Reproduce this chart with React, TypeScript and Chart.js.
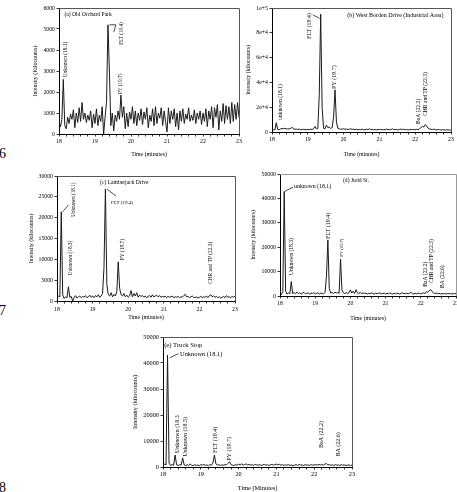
import React, { useEffect, useRef } from 'react';
import { Chart, registerables } from 'chart.js';

Chart.register(...registerables);

// Sampling grid (minutes)
const TIME_START = 18;
const TIME_STEP = 0.04;
const N_POINTS = 126;
const TIMES: number[] = Array.from({ length: N_POINTS }, (_, i) => Math.round((TIME_START + i * TIME_STEP) * 100) / 100);

const X_TICK_STEP = 0.2;

// (a) Old Orchard Park
const OLD_ORCHARD: number[] = [
  600, 350, 700, 2600, 400, 250, 800, 500, 950, 700,
  1150, 300, 1000, 550, 1250, 600, 1500, 700, 1000, 550,
  900, 650, 1100, 300, 950, 500, 1200, 400, 900, 600,
  1300, 0, 800, 1500, 5200, 3000, 400, 1000, 150, 900,
  600, 1100, 700, 1850, 800, 1300, 250, 1000, 350, 1050,
  700, 1300, 500, 1100, 400, 1000, 650, 1200, 450, 1050,
  700, 1250, 300, 900, 600, 1200, 400, 1300, 500, 1000,
  750, 1250, 400, 1100, 600, 100, 1250, 500, 1100, 700,
  1200, 350, 1000, 200, 1100, 600, 1200, 500, 950, 700,
  1250, 600, 900, 650, 1150, 500, 1000, 700, 1100, 450,
  1000, 600, 1200, 350, 1100, 700, 1300, 300, 1250, 800,
  1400, 200, 1100, 600, 1450, 500, 1350, 700, 1300, 500,
  1500, 600, 1400, 700, 1500, 800,
];

// (b) West Borden Drive
const WEST_BORDEN: number[] = [
  1500, 1800, 1600, 7500, 2000, 1800, 2500, 2800, 2600, 3000,
  2700, 2400, 2600, 2900, 3800, 2500, 2200, 2400, 2100, 2300,
  2000, 1900, 2200, 2000, 1800, 2100, 1900, 2300, 2000, 2500,
  4500, 2500, 3000, 30000, 95000, 20000, 3000, 2500, 5500, 3500,
  4000, 3000, 3500, 12000, 34000, 8000, 3000, 2500, 2200, 2400,
  2600, 2200, 2400, 2000, 2300, 2500, 2100, 2300, 1900, 2200,
  1800, 2100, 1900, 2300, 1700, 2000, 2200, 1800, 2600, 1900,
  2100, 1800, 2000, 1700, 2200, 1900, 2100, 1800, 2000, 1700,
  2300, 1900, 2100, 1800, 2600, 1900, 2000, 1800, 1700, 2000,
  2400, 1900, 2200, 1800, 2000, 1700, 1900, 2100, 1800, 2000,
  1900, 2200, 1800, 2600, 3500, 4500, 4000, 6000, 5000, 3000,
  2500, 2200, 2000, 2300, 1900, 1700, 2000, 1800, 1600, 1900,
  1700, 1500, 1800, 1600, 1700, 1500,
];

// (c) Lamberjack Drive
const LAMBERJACK: number[] = [
  800, 1200, 1000, 21400, 1500, 600, 1000, 800, 3400, 900,
  1100, 0, 800, 1300, 700, 1000, 1200, 800, 1100, 900,
  1300, 800, 1000, 1400, 900, 1200, 800, 1300, 1000, 1500,
  900, 1200, 1800, 8000, 26900, 4000, 1500, 1200, 2000, 1000,
  1600, 1200, 2200, 9400, 3000, 1500, 1200, 1800, 1000, 1400,
  900, 1200, 2500, 1000, 1800, 1200, 2000, 900, 1400, 1100,
  1300, 900, 1200, 800, 1100, 1300, 900, 1500, 1000, 1200,
  1400, 1000, 1300, 900, 1100, 1000, 1200, 800, 1100, 900,
  1000, 1200, 800, 1000, 900, 1100, 800, 1000, 900, 1300,
  1600, 1000, 1100, 800, 1000, 1200, 900, 800, 1000, 700,
  900, 1100, 800, 1000, 900, 1200, 800, 1300, 1500, 1000,
  1200, 900, 1100, 800, 1000, 700, 900, 1100, 800, 1300,
  900, 1000, 800, 1100, 900, 1200,
];

// (d) Judd St.
const JUDD: number[] = [
  1500, 600, 1800, 42700, 2000, 800, 1200, 900, 5900, 1000,
  1400, 900, 1600, 1000, 1300, 800, 1200, 1500, 900, 1100,
  1300, 800, 1200, 1000, 1400, 900, 1100, 1300, 800, 1200,
  1000, 900, 1500, 8000, 23000, 3000, 1200, 1400, 1000, 1600,
  1200, 1500, 1100, 15100, 2500, 1300, 1000, 1400, 1100, 1300,
  2500, 1200, 2000, 1000, 2600, 1300, 1000, 1500, 900, 1300,
  1000, 1200, 800, 1100, 900, 1300, 1000, 800, 1200, 900,
  1100, 1300, 900, 1000, 1200, 800, 1100, 900, 1300, 1000,
  800, 1100, 900, 1200, 1000, 800, 1100, 1300, 900, 1000,
  1200, 900, 1100, 1500, 1000, 800, 1100, 900, 1200, 1000,
  900, 1100, 1300, 1000, 1800, 1500, 2200, 2600, 1800, 1300,
  1000, 1200, 900, 1100, 800, 1000, 900, 1100, 800, 1000,
  900, 1100, 800, 1000, 900, 1000,
];

// (e) Truck Stop
const TRUCK_STOP: number[] = [
  400, 1200, 800, 43000, 1500, 600, 900, 700, 4600, 800,
  600, 900, 700, 3500, 800, 500, 900, 600, 1100, 700,
  500, 900, 600, 800, 500, 900, 700, 1000, 600, 800,
  500, 900, 700, 1500, 4600, 1200, 700, 900, 600, 800,
  700, 900, 800, 1400, 2000, 900, 700, 600, 900, 700,
  1100, 800, 1200, 700, 900, 1200, 800, 1000, 700, 900,
  600, 1000, 800, 700, 900, 600, 800, 1000, 700, 900,
  600, 800, 1000, 700, 900, 1100, 800, 1000, 700, 900,
  600, 800, 700, 900, 600, 800, 500, 700, 900, 600,
  1000, 700, 800, 600, 900, 700, 800, 600, 900, 700,
  800, 900, 700, 1000, 800, 900, 700, 1100, 1300, 800,
  900, 700, 800, 600, 900, 700, 800, 600, 900, 700,
  800, 600, 700, 800, 600, 700,
];

const B_TICK_LABELS = ['0', '2e+4', '4e+4', '6e+4', '8e+4', '1e+5'];

interface Ann { text: string; t: number; v: number; rot?: boolean; size?: number }
interface Leader { pts: [number, number][] }
interface PanelCfg {
  values: number[];
  yMax: number;
  yStep: number;
  yLabels?: string[];
  yTitle: string;
  xTitle: string;
  box: { left: number; top: number; width: number; height: number };
  area: { L: number; R: number; T: number; B: number };
  yTitleX: number;
  xTitleY: number;
  xTickPad: number;
  font: number;
  anns: Ann[];
  leaders: Leader[];
  frameColor: string;
}

const FAMILY = '"Liberation Serif", "Times New Roman", serif';

const PANELS: PanelCfg[] = [
  {
    values: OLD_ORCHARD, yMax: 6000, yStep: 1000,
    yTitle: 'Intensity (Kilocounts)', xTitle: 'Time (minutes)',
    box: { left: 18, top: 0, width: 226, height: 162 },
    area: { L: 59, R: 239, T: 8, B: 134 },
    yTitleX: 35, xTitleY: 154, xTickPad: 1, font: 5.8, frameColor: '#555',
    anns: [
      { text: '(a) Old Orchard Park', t: 18.15, v: 5700, size: 5.6 },
      { text: 'Unknown (18.1)', t: 18.19, v: 2700, rot: true, size: 5.4 },
      { text: 'FLT (19.4)', t: 19.75, v: 4250, rot: true, size: 5.2 },
      { text: 'PY (19.7)', t: 19.71, v: 1900, rot: true, size: 5.2 },
    ],
    leaders: [{ pts: [[19.4, 5200], [19.58, 5200], [19.52, 4850]] }],
  },
  {
    values: WEST_BORDEN, yMax: 100000, yStep: 20000, yLabels: B_TICK_LABELS,
    yTitle: 'Intensity (kilocounts)', xTitle: 'Time (minutes)',
    box: { left: 232, top: 0, width: 225, height: 162 },
    area: { L: 272, R: 451, T: 8, B: 132 },
    yTitleX: 248, xTitleY: 154, xTickPad: 1, font: 5.8, frameColor: '#555',
    anns: [
      { text: '(b) West Borden Drive (Industrial Area)', t: 20.1, v: 94000, size: 6 },
      { text: 'unknown (18.1)', t: 18.24, v: 9700, rot: true, size: 5.6 },
      { text: 'FLT (19.4)', t: 19.05, v: 75000, rot: true, size: 6 },
      { text: 'PY (19.7)', t: 19.75, v: 34700, rot: true, size: 6 },
      { text: 'BaA (22.2)', t: 22.1, v: 6500, rot: true, size: 5.6 },
      { text: 'CHR and TP (22.3)', t: 22.3, v: 12900, rot: true, size: 5.6 },
    ],
    leaders: [{ pts: [[19.14, 94400], [19.33, 91700]] }],
  },
  {
    values: LAMBERJACK, yMax: 30000, yStep: 5000,
    yTitle: 'Intensity (kilocounts)', xTitle: 'Time (minutes)',
    box: { left: 14, top: 168, width: 226, height: 155 },
    area: { L: 57, R: 235, T: 176, B: 301 },
    yTitleX: 31, xTitleY: 317, xTickPad: 2, font: 5.8, frameColor: '#555',
    anns: [
      { text: '(c) Lamberjack Drive', t: 19.21, v: 28400, size: 5.6 },
      { text: 'Unknown (18.1)', t: 18.48, v: 20200, rot: true, size: 5.2 },
      { text: 'Unknown (18.3)', t: 18.37, v: 6200, rot: true, size: 5.2 },
      { text: 'FLT (19.4)', t: 19.52, v: 23600, size: 5 },
      { text: 'PY (19.7)', t: 19.83, v: 9800, rot: true, size: 5.4 },
      { text: 'CHR and TP (22.3)', t: 22.32, v: 4100, rot: true, size: 5.4 },
    ],
    leaders: [
      { pts: [[18.16, 21430], [18.32, 23040]] },
      { pts: [[19.41, 26800], [19.66, 25200]] },
    ],
  },
  {
    values: JUDD, yMax: 50000, yStep: 10000,
    yTitle: 'Intensity (kilocounts)', xTitle: 'Time (minutes)',
    box: { left: 240, top: 166, width: 217, height: 157 },
    area: { L: 280, R: 456, T: 174, B: 296 },
    yTitleX: 253, xTitleY: 318, xTickPad: 1, font: 5.8, frameColor: '#999',
    anns: [
      { text: '(d) Judd St.', t: 19.79, v: 47500, size: 5.6 },
      { text: 'unknown (18.1)', t: 18.4, v: 44800, size: 5.8 },
      { text: 'Unknown (18.3)', t: 18.33, v: 8600, rot: true, size: 5.6 },
      { text: 'FLT (19.4)', t: 19.38, v: 23400, rot: true, size: 6 },
      { text: 'PY (19.7)', t: 19.76, v: 16100, rot: true, size: 4.6 },
      { text: 'BaA (22.2)', t: 22.13, v: 3800, rot: true, size: 5.6 },
      { text: 'CHR and TP (22.3)', t: 22.31, v: 5300, rot: true, size: 5.6 },
      { text: 'BA (22.6)', t: 22.63, v: 3300, rot: true, size: 5.6 },
    ],
    leaders: [{ pts: [[18.11, 42746], [18.37, 44549]] }],
  },
  {
    values: TRUCK_STOP, yMax: 50000, yStep: 10000,
    yTitle: 'Intensity (kilocounts)', xTitle: 'Time (Minutes)',
    box: { left: 118, top: 330, width: 240, height: 162 },
    area: { L: 163, R: 352, T: 337, B: 467 },
    yTitleX: 135, xTitleY: 489, xTickPad: 1, font: 6.3, frameColor: '#555',
    anns: [
      { text: '(e) Truck Stop', t: 18.03, v: 46900, size: 6.6 },
      { text: 'Unknown (18.1)', t: 18.45, v: 43300, size: 6.4 },
      { text: 'Unknown (18.3', t: 18.38, v: 5400, rot: true, size: 6 },
      { text: 'Unknown (18.5)', t: 18.58, v: 4000, rot: true, size: 6 },
      { text: 'FLT (19.4)', t: 19.38, v: 5400, rot: true, size: 6 },
      { text: 'PY (19.7)', t: 19.75, v: 2400, rot: true, size: 6 },
      { text: 'BaA (22.2)', t: 22.2, v: 7300, rot: true, size: 6 },
      { text: 'BA (22.6)', t: 22.64, v: 4000, rot: true, size: 6 },
    ],
    leaders: [{ pts: [[18.18, 42000], [18.41, 43600]] }],
  },
];

function makeOverlay(cfg: PanelCfg) {
  return {
    id: 'overlay',
    afterDatasetsDraw(chart: any) {
      const { ctx, chartArea: a, scales } = chart;
      const x = scales.x;
      const y = scales.y;
      ctx.save();
      // frame (top + right)
      ctx.strokeStyle = cfg.frameColor;
      ctx.lineWidth = 1;
      ctx.beginPath();
      ctx.moveTo(Math.round(a.left), Math.round(a.top) + 0.5);
      ctx.lineTo(Math.round(a.right) + 0.5, Math.round(a.top) + 0.5);
      ctx.lineTo(Math.round(a.right) + 0.5, Math.round(a.bottom));
      ctx.stroke();
      // leaders
      ctx.strokeStyle = '#000';
      ctx.lineWidth = 0.7;
      for (const l of cfg.leaders) {
        ctx.beginPath();
        l.pts.forEach(([t, v], i) => {
          const px = x.getPixelForValue(t);
          const py = y.getPixelForValue(v);
          if (i === 0) ctx.moveTo(px, py);
          else ctx.lineTo(px, py);
        });
        ctx.stroke();
      }
      // annotations
      ctx.fillStyle = '#000';
      ctx.textBaseline = 'middle';
      ctx.textAlign = 'left';
      for (const an of cfg.anns) {
        ctx.font = `${an.size ?? 5.6}px ${FAMILY}`;
        const px = x.getPixelForValue(an.t);
        const py = y.getPixelForValue(an.v);
        if (an.rot) {
          ctx.save();
          ctx.translate(px, py);
          ctx.rotate(-Math.PI / 2);
          ctx.fillText(an.text, 0, 0);
          ctx.restore();
        } else {
          ctx.fillText(an.text, px, py);
        }
      }
      ctx.restore();
    },
  };
}

function Panel({ cfg }: { cfg: PanelCfg }) {
  const ref = useRef<HTMLCanvasElement | null>(null);
  useEffect(() => {
    if (!ref.current) return;
    const { box, area } = cfg;
    const lh = cfg.font * 1.2;
    const yWidth = area.L - box.left;
    const xHeight = box.top + box.height - area.B;
    const yTitlePad = Math.max(0, cfg.yTitleX - box.left - lh / 2);
    const xTitlePad = Math.max(0, box.top + box.height - cfg.xTitleY - lh / 2);
    const tickFont = { family: FAMILY, size: cfg.font };
    const chart = new Chart(ref.current, {
      type: 'line',
      data: {
        datasets: [
          {
            data: TIMES.map((t, i) => ({ x: t, y: cfg.values[i] })),
            borderColor: '#1a1a1a',
            borderWidth: 1,
            pointRadius: 0,
            tension: 0,
            fill: false,
          },
        ],
      },
      options: {
        animation: false,
        responsive: false,
        maintainAspectRatio: false,
        devicePixelRatio: 1,
        layout: {
          padding: { left: 0, top: area.T - box.top, right: box.left + box.width - area.R, bottom: 0 },
        },
        plugins: { legend: { display: false }, tooltip: { enabled: false }, title: { display: false } },
        scales: {
          x: {
            type: 'linear',
            min: 18,
            max: 23,
            afterFit: (s: any) => {
              s.height = xHeight;
              s.paddingLeft = 0;
              s.paddingRight = 0;
            },
            ticks: {
              stepSize: X_TICK_STEP,
              autoSkip: false,
              maxRotation: 0,
              padding: cfg.xTickPad,
              color: '#000',
              font: tickFont,
              callback: (v: any) => {
                const n = Number(v);
                return Math.abs(n - Math.round(n)) < 1e-6 ? String(Math.round(n)) : '';
              },
            },
            grid: { display: true, drawOnChartArea: false, drawTicks: true, tickLength: 2.5, color: '#000', lineWidth: 0.8 },
            border: { display: true, color: '#000', width: 1 },
            title: {
              display: true,
              text: cfg.xTitle,
              color: '#000',
              font: { family: FAMILY, size: cfg.font },
              padding: { top: 0, bottom: xTitlePad },
            },
          },
          y: {
            type: 'linear',
            min: 0,
            max: cfg.yMax,
            afterFit: (s: any) => {
              s.width = yWidth;
              s.paddingTop = 0;
              s.paddingBottom = 0;
            },
            ticks: {
              stepSize: cfg.yStep,
              padding: 1.5,
              color: '#000',
              font: tickFont,
              callback: (v: any, i: number) => (cfg.yLabels ? cfg.yLabels[i] : String(v)),
            },
            grid: { display: true, drawOnChartArea: false, drawTicks: true, tickLength: 2.5, color: '#000', lineWidth: 0.8 },
            border: { display: true, color: '#000', width: 1 },
            title: {
              display: true,
              text: cfg.yTitle,
              color: '#000',
              font: { family: FAMILY, size: cfg.font },
              padding: { top: yTitlePad, bottom: 0 },
            },
          },
        },
      },
      plugins: [makeOverlay(cfg)],
    } as any);
    return () => chart.destroy();
  }, [cfg]);
  const { box } = cfg;
  return (
    <canvas
      ref={ref}
      width={box.width}
      height={box.height}
      style={{ position: 'absolute', left: box.left, top: box.top, width: box.width, height: box.height }}
    />
  );
}

const PAGE_NUMBERS = [
  { text: '6', top: 146 },
  { text: '7', top: 303 },
  { text: '8', top: 480 },
];

export default function App() {
  return (
    <div
      style={{
        position: 'absolute',
        left: 0,
        top: 0,
        width: 457,
        height: 492,
        overflow: 'hidden',
        background: '#fff',
        fontFamily: FAMILY,
      }}
    >
      {PAGE_NUMBERS.map((p) => (
        <div key={p.text} style={{ position: 'absolute', left: -1, top: p.top, fontSize: 14, lineHeight: '16px', color: '#000' }}>
          {p.text}
        </div>
      ))}
      {PANELS.map((cfg, i) => (
        <Panel key={i} cfg={cfg} />
      ))}
    </div>
  );
}
